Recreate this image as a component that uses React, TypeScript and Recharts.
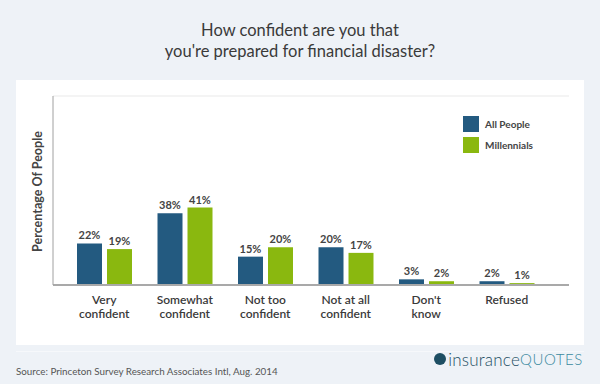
import React from 'react';
import {
  BarChart,
  Bar,
  XAxis,
  YAxis,
  CartesianGrid,
  LabelList,
} from 'recharts';

const categories = [
  'Very\nconfident',
  'Somewhat\nconfident',
  'Not too\nconfident',
  'Not at all\nconfident',
  "Don't\nknow",
  'Refused',
];
const allPeople = [22, 38, 15, 20, 3, 2];
const millennials = [19, 41, 20, 17, 2, 1];
const yTicks = [0, 10, 20, 30, 40, 50, 60, 70, 80, 90, 100];

const BLUE = '#235a80';
const GREEN = '#8ab80f';
const FONT = 'Lato, "Open Sans", sans-serif';

const chartData = categories.map((c, i) => ({
  category: c,
  all: allPeople[i],
  millennials: millennials[i],
}));

const CategoryTick = (props: any) => {
  const { x, y, payload } = props;
  const lines = String(payload.value).split('\n');
  return (
    <g transform={`translate(${x},${y})`}>
      {lines.map((line: string, i: number) => (
        <text
          key={i}
          x={0}
          y={i * 13.5}
          dy={11}
          textAnchor="middle"
          fill="#3a3a3a"
          fontSize={12}
          fontWeight={600}
          fontFamily={FONT}
        >
          {line}
        </text>
      ))}
    </g>
  );
};

// rotated axis title, placed from the axis viewBox
const YTitle = (props: any) => {
  const vb = props.viewBox || {};
  const cx = vb.x + vb.width - 16;
  const cy = vb.y + vb.height / 2 + 1;
  return (
    <text
      x={cx}
      y={cy}
      transform={`rotate(-90, ${cx}, ${cy})`}
      textAnchor="middle"
      dominantBaseline="central"
      fill="#444"
      fontSize={12.5}
      fontWeight={700}
      fontFamily={FONT}
    >
      Percentage Of People
    </text>
  );
};

const legendItems = [
  { label: 'All People', color: BLUE },
  { label: 'Millennials', color: GREEN },
];

export default function App() {
  return (
    <div
      style={{
        position: 'fixed',
        left: 0,
        top: 0,
        width: 600,
        height: 384,
        background: '#eef2f7',
        fontFamily: FONT,
        overflow: 'hidden',
      }}
    >
      <div
        style={{
          position: 'absolute',
          left: 0,
          top: 20,
          width: 600,
          textAlign: 'center',
          fontSize: 16.5,
          lineHeight: '21px',
          color: '#3a3a3a',
        }}
      >
        How confident are you that
        <br />
        you're prepared for financial disaster?
      </div>
      <div
        style={{
          position: 'absolute',
          left: 16,
          top: 80,
          width: 568,
          height: 265,
          background: '#ffffff',
        }}
      />
      <div
        style={{
          position: 'absolute',
          left: 16,
          top: 351,
          width: 568,
          height: 1,
          background: '#f6f8fb',
        }}
      />
      <div style={{ position: 'absolute', left: 0, top: 0 }}>
        <BarChart
          width={600}
          height={384}
          data={chartData}
          margin={{ top: 96, right: 31, bottom: 59, left: 33 }}
          barSize={25}
          barGap={5}
        >
          <CartesianGrid vertical={false} stroke="#e9e9e9" />
          <XAxis
            dataKey="category"
            interval={0}
            tick={<CategoryTick />}
            tickLine={false}
            axisLine={{ stroke: '#a9a9a9', strokeWidth: 2 }}
            padding={{ left: 11, right: 22 }}
            height={40}
          />
          <YAxis
            domain={[0, 100]}
            ticks={yTicks}
            width={20}
            tick={false}
            tickLine={false}
            axisLine={{ stroke: '#a0a0a0', strokeWidth: 1 }}
            label={<YTitle />}
          />
          <Bar dataKey="all" name="All People" fill={BLUE} isAnimationActive={false}>
            <LabelList
              dataKey="all"
              position="top"
              offset={4}
              formatter={(v: any) => `${v}%`}
              fill="#444"
              fontSize={11}
              fontWeight={700}
              fontFamily={FONT}
            />
          </Bar>
          <Bar dataKey="millennials" name="Millennials" fill={GREEN} isAnimationActive={false}>
            <LabelList
              dataKey="millennials"
              position="top"
              offset={4}
              formatter={(v: any) => `${v}%`}
              fill="#444"
              fontSize={11}
              fontWeight={700}
              fontFamily={FONT}
            />
          </Bar>
        </BarChart>
      </div>
      <div
        style={{
          position: 'absolute',
          left: 463,
          top: 116,
          fontFamily: FONT,
          fontSize: 10,
          fontWeight: 700,
          color: '#444',
        }}
      >
        {legendItems.map((item) => (
          <div key={item.label} style={{ display: 'flex', alignItems: 'center', height: 16, marginBottom: 5 }}>
            <span style={{ width: 16, height: 16, background: item.color, display: 'inline-block', marginRight: 6 }} />
            <span>{item.label}</span>
          </div>
        ))}
      </div>
      <div
        style={{
          position: 'absolute',
          left: 16,
          top: 364,
          fontSize: 9.8,
          color: '#555',
          lineHeight: '14px',
        }}
      >
        Source: Princeton Survey Research Associates Intl, Aug. 2014
      </div>
      <div
        style={{
          position: 'absolute',
          right: 17,
          top: 349,
          display: 'flex',
          alignItems: 'center',
          height: 20,
        }}
      >
        <span
          style={{
            width: 12,
            height: 12,
            borderRadius: '50%',
            background: '#1d4e63',
            display: 'inline-block',
            marginRight: 2,
          }}
        />
        <span style={{ fontSize: 17, fontWeight: 300, color: '#1d4e63', letterSpacing: 0.2 }}>
          insurance
        </span>
        <span style={{ fontSize: 15, fontWeight: 300, color: '#3a8aa0', letterSpacing: 0.6 }}>
          QUOTES
        </span>
      </div>
    </div>
  );
}
